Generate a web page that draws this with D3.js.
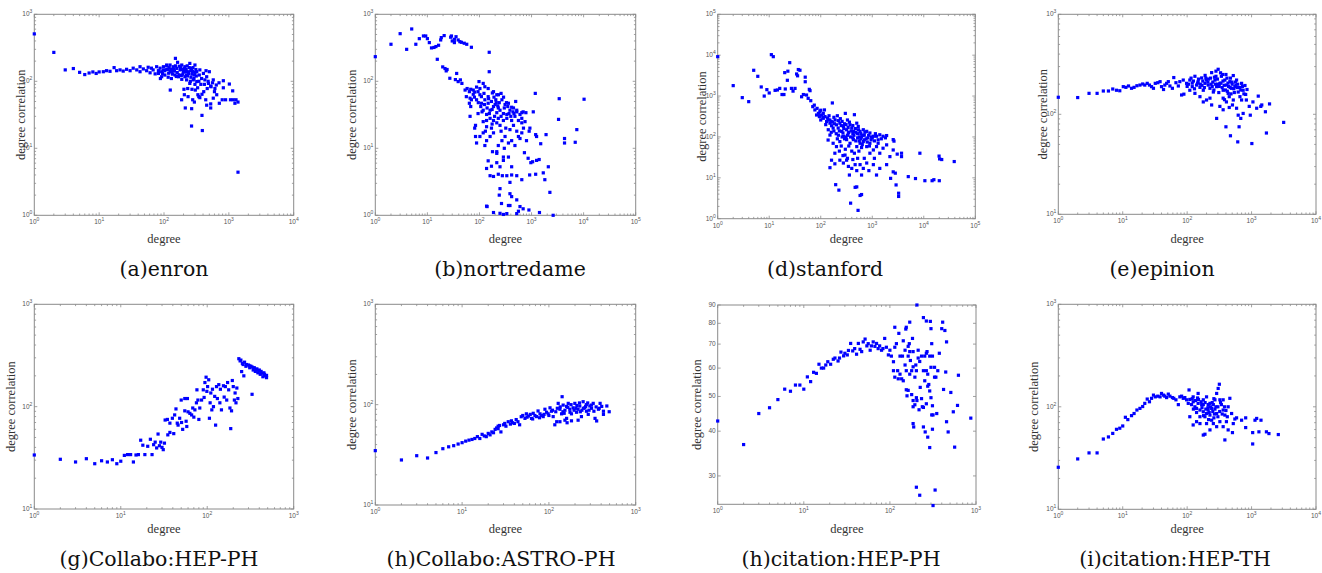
<!DOCTYPE html>
<html>
<head>
<meta charset="utf-8">
<script src="https://cdn.jsdelivr.net/npm/d3@7"></script>
<style>
  body { margin: 0; background: #fff; }
  svg { display: block; }
</style>
</head>
<body>
<svg id="chart" width="1322" height="573"></svg>
<script>
// [degree, degree correlation]
const enron = [
  [1,510],[2,270],[3,148],[4,155],[5,136],[6,126],[7,133],[8,138],[9,131],[10,138],
  [11.6,139],[13,144],[14.7,141],[17,160],[18.6,144],[21,148],[23.5,142],[26.5,151],[30,144],[33.5,157],
  [38,148],[42.7,165],[42.7,139],[48,153],[54,144],[57,162],[61,134],[64,157],[68,148],[73,129],
  [77,165],[82,144],[87,157],[92,139],[98,165],[103,144],[110,175],[116,151],[124,139],[88,110],
  [150,220],[162,192],[125,74],[187,53],[213,40],[267,39],[266,21.5],[385,31],[390,18.4],[1384,4.4],
  [531,83],[705,95],[822,102],[1018,91],[822,80],[1146,72],[1060,53],[1170,53],[1290,53],[1384,49],
  [1240,47],[890,53],[790,53],[713,47],[525,46],[440,53],[455,44],[525,40],[385,64],[344,59],
  [333,63],[304,74],[270,76],[232,78],[203,76],[206,63],[235,59],[277,53],[294,49],[357,57],
  [410,70],[464,78],[525,85],[485,93],[427,105],[455,117],[405,131],[445,144],[500,139],[350,124],
  [380,110],[320,99],[283,105],[250,93],[223,105],[210,117],[188,107],[167,117],[148,124],[130,110],
  [116,115],[103,124],[92,117],[82,131],[238,139],[267,156],[300,175],[250,185],[210,165],[188,175],
  [177,148],[157,156],[139,165],[124,175],[110,170],[98,148],[130,139],[223,124],[320,139],[357,148],
  [294,124],[575,105],[610,78],[650,63],[575,56],[120,160],[140,150],[160,135],[180,160],[200,140],
  [220,150],[240,130],[260,145],[280,160],[170,125],[195,128],[230,120],[150,170],[110,150],[135,128],
  [205,155],[260,115],[290,110],[315,120],[345,100],[370,90],[300,90],[255,100],[330,80],[420,90],
  [480,100],[560,95],[600,70],[640,88],[128,152],[145,142],[172,168],[190,150],[215,138],[245,160],
  [275,140],[310,150],[118,132],[155,118],[185,122],[228,170],[270,128],[300,135],[95,130]
];

const nortredame = [
  [1,233],[2,357],[3,514],[4,300],[5,604],[6,357],[7,433],[8.4,475],[9.3,475],[10,433],
  [10.9,378],[12,315],[13.4,320],[14.6,330],[16.4,345],[18,414],[18.5,449],[21,481],[15.5,213],[19.7,164],
  [21.8,155],[23,143],[23.9,150],[27,111],[34.5,106],[36.5,131],[29,475],[30,400],[33,423],[35.5,463],
  [39,414],[42,390],[45,382],[51,370],[57,357],[33,378],[28,455],[70,322],[154,271],[154,139],
  [98,99],[118,93],[39,99],[43,105],[46,93],[53,74],[58,78],[64,70],[68,76],[76,74],
  [81,69],[56,59],[66,56],[64,47],[68,42],[66,30],[88,53],[102,63],[109,59],[122,66],
  [147,47],[177,67],[206,53],[231,63],[260,66],[106,42],[94,33],[118,37],[137,32],[160,37],
  [186,42],[215,34],[248,37],[288,33],[335,32],[385,37],[450,40],[496,50],[520,35],[600,32],
  [690,35],[780,34],[1080,35],[1180,66],[3400,55],[10200,54],[3300,27],[7400,19],[6900,12.3],[4300,14],
  [4300,12],[1200,16],[1250,15],[1900,16],[1500,11.7],[930,20],[900,18],[800,13],[650,17],[560,15],
  [480,11],[415,13],[360,12],[310,15],[270,13],[230,11],[215,8.9],[186,17],[160,15],[137,13],
  [127,11],[118,17],[102,15],[88,12],[84,15],[81,20],[84,22],[137,21],[170,20],[215,24],
  [248,22],[288,26],[335,28],[230,28],[186,26],[160,28],[137,26],[118,25],[415,26],[480,30],
  [560,26],[650,28],[750,25],[385,19],[520,18],[650,24],[730,8.6],[860,7.1],[970,6.1],[1050,6.3],
  [1250,6.6],[1400,6.8],[2100,5.3],[2250,2.2],[1680,4.3],[1800,3.4],[1200,4.1],[920,4.0],[650,3.4],[520,3.9],
  [415,4.0],[335,3.9],[275,3.9],[230,4.1],[186,3.8],[160,3.9],[137,5.0],[170,5.4],[215,6.1],[248,5.3],
  [288,6.6],[360,7.4],[415,5.3],[288,7.4],[215,8.4],[178,8.9],[147,6.5],[248,2.5],[240,2.0],[265,1.5],
  [385,3.1],[385,2.1],[415,1.9],[520,1.7],[385,1.4],[600,1.35],[690,1.25],[890,1.2],[1420,1.1],[2600,1.0],
  [140,1.35],[137,1.37],[186,1.1],[248,1.07],[288,1.03],[335,1.06],[520,1.06],[560,1.15],[360,1.4],[109,47],
  [127,53],[147,59],[170,50],[200,45],[230,40],[270,53],[310,45],[360,47],[415,41],[520,37],
  [650,34],[127,83],[147,78],[186,70],[215,63],[102,78],[94,70],[88,82],[76,64],[70,53],
  [112,35],[125,45],[140,40],[155,33],[175,38],[195,30],[210,48],[225,43],[260,30],[300,40],
  [330,48],[370,33],[440,35],[95,48],[80,58],[150,55],[190,58],[240,48],[290,58],[350,42],
  [400,30],[460,33],[130,18],[175,23],[260,18],[320,20],[300,10],[450,22],[600,14],[700,20]
];

const stanford = [
  [1,9200],[2,1800],[3,915],[4,730],[5,4270],[6,3040],[7,1670],[8,1000],[9,1435],[10,1190],
  [11,10300],[12,9200],[13,1380],[14.4,1410],[16,1540],[17.7,1090],[19.3,1090],[20.5,1490],[22.5,2430],[20,3740],
  [25,6560],[23,4060],[27,1540],[29,1320],[31.7,1540],[34,3470],[36.7,4450],[39.5,4280],[35.5,3130],[42.5,960],
  [46,1090],[50,2900],[50,2240],[60,1460],[62,1355],[53,1060],[57,880],[64,770],[70,551],[77,458],
  [83,344],[90,377],[96,414],[104,344],[112,286],[121,314],[130,238],[139,261],[151,217],[162,188],
  [168,678],[180,302],[202,198],[218,165],[235,217],[256,137],[275,181],[300,377],[318,150],[344,125],
  [370,198],[400,165],[430,137],[450,350],[500,217],[535,181],[580,137],[670,150],[780,137],[900,125],
  [1050,104],[1210,104],[1400,113],[1620,104],[1900,108],[2550,86],[2640,79],[174,165],[139,84],[151,111],
  [174,70],[202,58],[235,77],[275,104],[318,86],[370,70],[430,86],[500,58],[580,70],[670,77],
  [780,58],[900,70],[1050,48],[1210,58],[1400,40],[1620,53],[1900,64],[2200,33],[2550,48],[3050,38],
  [3700,40],[3700,33],[151,17.7],[162,27],[188,22],[188,40],[235,27],[275,23],[296,36],[318,27],
  [344,19],[360,11.7],[400,17],[465,21],[500,15],[580,21],[620,11.7],[670,17],[780,23],[860,15],
  [1050,21],[1210,11.7],[1400,17],[1900,21],[2270,9.7],[2550,14],[2800,13],[2900,6.7],[3250,4.2],[3250,3.5],
  [195,6.8],[225,5.0],[465,5.85],[500,6.0],[580,3.7],[620,3.9],[380,2.4],[530,1.6],[5000,10.7],[6900,9.6],
  [10500,8.5],[14500,8.5],[15700,9],[20000,8.5],[8400,40],[19800,34],[20300,29],[22300,28],[39000,25],[94,314],
  [112,377],[118,458],[100,260],[125,200],[145,330],[160,240],[190,260],[210,330],[240,280],[260,240],
  [290,210],[330,260],[360,230],[420,190],[470,160],[520,120],[560,100],[620,100],[700,110],[820,95],
  [950,85],[1100,80],[1300,85],[160,130],[200,120],[230,140],[260,100],[290,90],[330,110],[380,100],
  [440,110],[520,95],[600,90],[700,85],[800,75],[210,90],[250,60],[300,50],[350,60],[400,45],
  [450,40],[550,45],[620,55],[75,600],[85,500],[100,450],[110,300],[135,290],[150,260],[170,230],
  [185,210],[220,250],[250,190],[280,160],[310,200],[340,170],[390,140],[420,120],[480,130],[540,150],
  [600,120],[650,110],[720,130],[850,110],[1000,95],[1150,120],[1500,90],[1800,95],[140,150],[180,140],
  [220,110],[270,125],[310,100],[350,130],[420,95],[480,80],[560,80],[640,65],[760,90],[880,60],
  [960,100],[1300,70],[230,45],[270,35],[330,30],[420,28],[520,30],[700,30],[900,40],[1100,30]
];

const epinion = [
  [1,148],[2,147],[3,162],[4,162],[5,171],[6,171],[7,179],[8,174],[9,172],[10.2,189],
  [11.2,186],[12.3,192],[13.7,182],[15,186],[16.6,193],[18.5,196],[20.4,201],[22,196],[24,204],[26,196],
  [28,189],[30,182],[32,204],[35,207],[38,212],[40,189],[43,177],[45,196],[48,204],[51,212],
  [54,192],[59,182],[62,233],[67,207],[73,192],[82,156],[89,159],[77,212],[87,220],[98,204],
  [110,220],[120,189],[132,240],[140,196],[148,212],[158,186],[168,231],[178,174],[189,204],[200,220],
  [212,196],[226,182],[240,261],[255,167],[270,220],[287,189],[303,282],[322,204],[340,240],[362,174],
  [385,220],[407,196],[433,162],[460,212],[490,182],[520,244],[550,189],[585,220],[620,167],[660,150],
  [700,204],[740,174],[790,194],[226,145],[240,124],[287,91],[322,120],[362,111],[400,75],[470,61],
  [407,133],[450,117],[505,124],[585,115],[620,98],[640,75],[680,91],[740,102],[830,139],[920,120],
  [955,98],[1050,133],[1200,115],[1270,152],[1390,120],[1440,124],[1640,106],[1900,127],[1700,65],[1010,51],
  [610,53],[3150,83],[850,177],[810,158],[700,139],[520,139],[362,145],[178,133],[200,139],[158,150],
  [132,162],[110,174],[250,210],[280,240],[300,200],[330,260],[360,215],[400,250],[430,205],[470,230],
  [500,200],[560,210],[260,175],[310,165],[350,185],[420,170],[480,160],[540,165],[600,185],[380,140],
  [450,150],[280,270],[230,230],[190,245],[150,225],[120,205],[100,190],[130,180],[170,195],[210,210],
  [105,200],[115,230],[125,215],[145,205],[160,200],[175,215],[185,185],[195,230],[215,225],[235,200],
  [245,190],[265,235],[275,200],[295,225],[315,190],[335,205],[355,250],[375,195],[395,175],[415,230],
  [440,190],[465,185],[495,210],[530,180],[570,195],[610,200],[650,185],[680,175],[720,190],[760,160]
];

const hepphCollab = [
  [1,33.7],[2,30.6],[3,28.8],[4,31],[5,27.7],[6,29.6],[7,28.8],[8,30.3],[9,27.7],[10,29.3],
  [11,33.4],[12,34],[13,34],[14,28.8],[15,33.7],[16,34],[17,47],[18,42],[19,34],[20.5,41],
  [22,48],[23,34],[24,42.5],[25,45],[26,39.5],[27,54],[28,41.5],[29,45],[30,40],[31,38],
  [32,44],[32.6,74],[34.6,75],[35,53],[37,69],[39.5,77],[37,56],[41,54.5],[42,83],[43.5,95],
  [45,69],[46,66],[48,77],[50,116],[50.5,70],[52,60],[55,91],[55,120],[57,72],[58,64],
  [59,120],[60,89],[63,86],[66,83],[68,97],[70,79],[72,93],[75,109],[76,146],[78,116],
  [80,75],[82,97],[86,116],[90,146],[92,123],[94,172],[97,194],[99,141],[101,157],[104,183],
  [106,77],[108,109],[110,136],[113,93],[115,148],[118,100],[122,126],[125,66],[128,157],[131,120],
  [136,164],[140,109],[142,148],[146,93],[154,160],[157,124],[162,157],[168,116],[172,172],[177,146],
  [183,97],[187,61],[191,91],[195,180],[200,157],[206,116],[210,136],[215,109],[220,152],[226,120],
  [232,294],[240,280],[250,220],[265,200],[255,265],[270,272],[285,258],[310,250],[330,244],[330,132],
  [350,240],[375,234],[400,228],[420,221],[452,214],[485,202],[485,192],[280,248],[310,240],[340,228],
  [360,221],[385,214],[410,207],[440,196],[460,207],[260,258],[245,285],[300,255],[320,248],[345,238],
  [370,230],[395,222],[430,212],[470,200]
];

const astroph = [
  [1,34.8],[2,28.1],[3,31],[4,29.4],[5,33.3],[6,36.4],[7,38],[8,39],[9,40.5],[10,41.8],
  [11,43.3],[12,44.3],[13,45],[14,46],[15,48],[16,46],[17,50.6],[18,48.8],[19,48],[20,51.7],
  [21,50],[22,53.5],[23,52.5],[24,56.7],[25,58.6],[26,57.6],[26,61],[27,62],[28,53.5],[30,63],
  [31,65],[32,61],[34,67.6],[36,64],[37,69],[38,66],[40,65],[42,71],[44,67.6],[46,63],
  [48,75.8],[50,78],[53,73],[55,81],[58,77],[61,80],[63,73],[66,82],[69,78],[72,76],
  [75,86.5],[79,81],[82,78],[86,76],[90,90],[94,84],[98,81],[103,93],[107,86],[112,76],
  [117,63],[123,67.6],[128,103],[134,90],[140,81],[142,120],[146,99],[153,88],[160,73],[162,66],
  [167,103],[174,90],[182,81],[190,93],[199,103],[208,84],[217,90],[227,97],[237,76],[248,107],
  [259,93],[271,86],[296,97],[324,103],[355,68.8],[372,90],[389,103],[406,96],[425,86],[465,97],
  [495,85],[425,80],[340,73],[284,80],[217,70],[182,69],[153,70],[134,67.6],[120,85],[135,95],
  [150,82],[165,94],[180,100],[195,88],[210,98],[230,85],[250,92],[270,100],[290,88],[310,92],
  [330,86],[350,95],[380,92],[56,75],[65,72],[78,74],[88,80],[100,78],[110,88],[125,92],
  [145,85],[160,96],[175,84],[205,92],[225,104],[240,88],[265,96],[280,104],[310,99]
];

const hepphCite = [
  [1,42.7],[2,36.7],[3,44.8],[4,46.5],[5,49],[6,52.4],[7,51.7],[8,53.8],[9,53.8],[10,52.4],
  [11,56.7],[12,55],[13,58.4],[14,58],[15,61.5],[16,60],[17,60],[18,61.2],[19,62.5],[20.5,61.5],
  [22,63.5],[23,64],[25,62.8],[26,64],[27,66.5],[29,64.9],[30,66],[32,65.3],[33,67.2],[35,70.3],
  [37,67],[39,68],[41,65.6],[43,70.3],[45,67.7],[47,66.7],[49,71],[51.5,72.3],[54,69.2],[56,70.2],
  [59,67.3],[61,69.2],[64,71],[67,69],[70,70.3],[73,68],[76,69.2],[80,67.3],[83,68],[87,72.6],
  [91,68.6],[96,65.3],[100,67.3],[104,64.8],[110,62.5],[114,68.6],[119,70.2],[114,78],[123,59],[127,75],
  [131,64.8],[137,56],[143,71.5],[150,61.2],[153,77.1],[155,78],[163,52],[168,70.2],[170,80.6],[173,63],
  [179,59],[183,72.6],[186,46.8],[189,41.1],[195,56.6],[200,61.2],[203,27.9],[206,90],[213,67.3],[218,45.9],
  [222,26.5],[225,53],[233,64.8],[238,46.8],[245,83],[254,55.3],[257,39.8],[265,81.2],[270,66.7],[275,38.5],
  [283,54],[290,36],[295,81],[300,77.3],[306,44.4],[312,40.5],[317,24.8],[330,56.6],[335,27.4],[350,44.8],
  [375,66],[400,77.3],[410,80.6],[420,52.3],[435,76.4],[445,58.5],[455,71],[475,39.8],[455,42.5],[510,51.3],
  [545,45.3],[565,36.1],[610,47.2],[625,57.3],[870,43.5],[131,57.7],[143,55.3],[155,52.2],[158,50.2],[179,50.6],
  [186,48.7],[203,49.6],[206,48.7],[233,49.3],[245,46.6],[265,47.7],[275,53.4],[290,51.8],[300,49.6],[312,47.1],
  [317,44.4],[245,41.1],[186,42],[195,47.4],[170,57.7],[186,60.5],[203,59],[213,64],[222,62.6],[245,59],
  [254,64.8],[265,59],[275,57.7],[290,64.8],[300,60.3],[306,70.2],[312,64.8],[330,60.3],[342,56.6],[360,59],
  [265,66],[155,59],[163,64.8],[170,66.7],[186,66.7],[163,69],[150,67.3],[140,64.8],[110,59],[114,56.6],
  [125,56]
];

const hepthCite = [
  [1,25.7],[2,31],[3,35.5],[4,35.5],[5,48.5],[6,50.8],[7,55],[8,60.3],[9,61.8],[10,65],
  [11,79],[12,75],[13.7,82],[15,86],[16.6,93],[18.5,96.5],[20.4,100.6],[22,108],[24,119],[26,112],
  [28,121],[30,130],[32,125],[35,127],[38,125],[40,135],[43,130],[45,127],[48,123],[51,133],
  [54,127],[59,123],[62,121],[67,117],[73,105],[77,125],[82,127],[87,121],[92,123],[98,117],
  [104,108],[107,146],[110,118],[117,105],[124,112],[132,100],[140,96.5],[148,108],[158,93],[168,105],
  [178,89.5],[189,80],[200,86],[212,93],[226,83],[240,96.5],[255,105],[270,117],[287,135],[303,151],
  [316,166],[322,117],[340,105],[362,93],[385,83],[407,71.6],[433,100],[460,121],[490,86],[520,68.6],
  [550,76],[585,78],[385,47.5],[189,54],[178,53],[124,66.5],[140,71.6],[158,68.6],[226,59.5],[255,68.6],
  [287,64],[322,71.6],[362,64],[433,59.5],[505,56],[700,74],[810,78],[810,62.7],[1130,74],[1200,77],
  [1040,56],[1040,43.4],[1300,57],[1400,74],[1700,57],[1860,54.8],[2600,53.6],[178,117],[200,125],[226,108],
  [124,125],[148,135],[178,105],[212,105],[362,117],[287,86],[240,74],[200,68.6],[158,80],[110,80],
  [120,120],[135,115],[150,118],[165,112],[190,110],[210,98],[230,100],[250,90],[270,95],[300,100],
  [320,90],[350,85],[400,92],[420,80],[300,80],[260,78],[215,75],[180,82],[140,88],[125,95],
  [145,122],[170,98],[195,95],[220,88],[245,110],[265,85],[280,100],[330,110],[380,100],[260,120]
];

const titles = ['(a)enron', '(b)nortredame', '(d)stanford', '(e)epinion',
  '(g)Collabo:HEP-PH', '(h)Collabo:ASTRO-PH', '(h)citation:HEP-PH', '(i)citation:HEP-TH'];
const series = [enron, nortredame, stanford, epinion, hepphCollab, astroph, hepphCite, hepthCite];
const xDomains = [[1,1e4],[1,1e5],[1,1e5],[1,1e4],[1,1e3],[1,1e3],[1,1e3],[1,1e4]];
const yDomains = [[1,1e3],[1,1e3],[1,1e5],[10,1e3],[10,1e3],[10,1e3],[25,90],[10,1e3]];
const citeTicks = [30, 40, 50, 60, 70, 80, 90];

// plot frames in page pixels: left, right, top, bottom, y-label offset, title centre
const frames = [
  {l:34.3, r:293.7, t:14.3, b:215.3, yl:14, tx:164},
  {l:375.3, r:635.7, t:14.3, b:215.3, yl:24, tx:510},
  {l:717.7, r:975.3, t:14.3, b:218.7, yl:16, tx:825},
  {l:1058.3, r:1316, t:14.3, b:214.3, yl:16, tx:1162},
  {l:34.3, r:293.7, t:304.3, b:509, yl:24, tx:159},
  {l:375.3, r:635.7, t:304.3, b:505, yl:24, tx:501},
  {l:717.7, r:976, t:305, b:504.3, yl:21, tx:841},
  {l:1058.3, r:1316, t:304.3, b:509.3, yl:25, tx:1175}
];
const rowText = [{xl:243, title:276}, {xl:533, title:566}];

const svg = d3.select('#chart');
const axisColor = '#8a8a8a';
const tickColor = '#555';

function decades(dom) {
  const lo = Math.ceil(Math.log10(dom[0]) - 1e-9), hi = Math.floor(Math.log10(dom[1]) + 1e-9);
  return d3.range(lo, hi + 1).map(e => 10 ** e);
}
function minors(dom) {
  const out = [];
  const lo = Math.floor(Math.log10(dom[0])), hi = Math.ceil(Math.log10(dom[1]));
  for (let e = lo; e < hi; e++) {
    for (let k = 2; k <= 9; k++) {
      const v = k * 10 ** e;
      if (v > dom[0] && v < dom[1]) out.push(v);
    }
  }
  return out;
}
function powLabel(sel, v) {
  sel.append('tspan').text('10');
  sel.append('tspan').attr('dy', -3).attr('font-size', 5).text(Math.round(Math.log10(v)));
}

series.forEach((pts, i) => {
  const f = frames[i];
  const row = rowText[i < 4 ? 0 : 1];
  const x = d3.scaleLog().domain(xDomains[i]).range([f.l, f.r]);
  const y = d3.scaleLog().domain(yDomains[i]).range([f.b, f.t]);
  const g = svg.append('g');

  // ticks on all four sides, pointing in
  const xMaj = decades(xDomains[i]), xMin = minors(xDomains[i]);
  const yMaj = i === 6 ? citeTicks : decades(yDomains[i]);
  const yMin = i === 6 ? [] : minors(yDomains[i]);
  const tk = g.append('g').attr('stroke', axisColor).attr('stroke-width', 0.8);
  [[xMaj, 3], [xMin, 1.8]].forEach(([vals, len]) => {
    vals.forEach(v => {
      tk.append('line').attr('x1', x(v)).attr('x2', x(v)).attr('y1', f.b).attr('y2', f.b - len);
      tk.append('line').attr('x1', x(v)).attr('x2', x(v)).attr('y1', f.t).attr('y2', f.t + len);
    });
  });
  [[yMaj, 3], [yMin, 1.8]].forEach(([vals, len]) => {
    vals.forEach(v => {
      tk.append('line').attr('y1', y(v)).attr('y2', y(v)).attr('x1', f.l).attr('x2', f.l + len);
      tk.append('line').attr('y1', y(v)).attr('y2', y(v)).attr('x1', f.r).attr('x2', f.r - len);
    });
  });

  g.append('rect')
    .attr('x', f.l).attr('y', f.t)
    .attr('width', f.r - f.l).attr('height', f.b - f.t)
    .attr('fill', 'none').attr('stroke', axisColor).attr('stroke-width', 1);

  // tick labels
  xMaj.forEach(v => {
    g.append('text')
      .attr('x', x(v)).attr('y', f.b + 9)
      .attr('text-anchor', 'middle')
      .attr('font-family', 'Liberation Sans, Arial, sans-serif')
      .attr('font-size', 6.5).attr('fill', tickColor)
      .call(powLabel, v);
  });
  yMaj.forEach(v => {
    const t = g.append('text')
      .attr('x', f.l - 2).attr('y', y(v) + 2)
      .attr('text-anchor', 'end')
      .attr('font-family', 'Liberation Sans, Arial, sans-serif')
      .attr('font-size', 6.5).attr('fill', tickColor);
    if (i === 6) t.text(v); else t.call(powLabel, v);
  });

  // axis titles
  g.append('text')
    .attr('x', (f.l + f.r) / 2).attr('y', row.xl)
    .attr('text-anchor', 'middle')
    .attr('font-family', 'Liberation Serif, Times New Roman, serif')
    .attr('font-size', 12.5).attr('fill', '#333')
    .text('degree');
  g.append('text')
    .attr('transform', `translate(${f.l - f.yl},${(f.t + f.b) / 2}) rotate(-90)`)
    .attr('text-anchor', 'middle')
    .attr('dy', '0.35em')
    .attr('font-family', 'Liberation Serif, Times New Roman, serif')
    .attr('font-size', 12.5).attr('fill', '#333')
    .text('degree correlation');

  // points
  g.append('g').selectAll('rect')
    .data(pts)
    .join('rect')
    .attr('x', d => x(d[0]) - 1.6)
    .attr('y', d => y(d[1]) - 1.6)
    .attr('width', 3.2).attr('height', 3.2)
    .attr('fill', '#0000ff');

  // caption
  svg.append('text')
    .attr('x', f.tx).attr('y', row.title)
    .attr('text-anchor', 'middle')
    .attr('font-family', 'DejaVu Serif, serif')
    .attr('font-size', 20.5).attr('fill', '#111')
    .text(titles[i]);
});
</script>
</body>
</html>
